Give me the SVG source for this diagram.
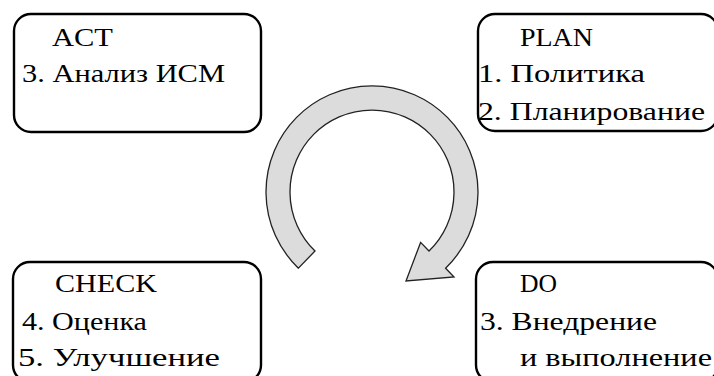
<svg xmlns="http://www.w3.org/2000/svg" width="714" height="376" viewBox="0 0 714 376">
<style>
.box{fill:#fff;stroke:#000;stroke-width:2.4}
.t{font-family:'Liberation Serif','DejaVu Serif',serif;font-size:26px;fill:#000}
.arrow{fill:#dcdcdc;stroke:#222;stroke-width:1.3;stroke-linejoin:miter}
</style>
<rect width="714" height="376" fill="#fff"/>
<g id="act">
<rect class="box" x="14" y="14" width="247" height="118" rx="17"/>
<text class="t" x="52" y="46" textLength="61" lengthAdjust="spacingAndGlyphs">ACT</text>
<text class="t" x="22" y="82" textLength="203" lengthAdjust="spacingAndGlyphs">3. Анализ ИСМ</text>
</g>
<g id="plan">
<rect class="box" x="478" y="14" width="240" height="117" rx="17"/>
<text class="t" x="520" y="46" textLength="73" lengthAdjust="spacingAndGlyphs">PLAN</text>
<text class="t" x="478" y="82" textLength="167" lengthAdjust="spacingAndGlyphs">1. Политика</text>
<text class="t" x="478" y="120" textLength="227" lengthAdjust="spacingAndGlyphs">2. Планирование</text>
</g>
<g id="check">
<rect class="box" x="13" y="262" width="248" height="120" rx="17"/>
<text class="t" x="55" y="292" textLength="102" lengthAdjust="spacingAndGlyphs">CHECK</text>
<text class="t" x="22" y="330" textLength="125" lengthAdjust="spacingAndGlyphs">4. Оценка</text>
<text class="t" x="18" y="366" textLength="202" lengthAdjust="spacingAndGlyphs">5. Улучшение</text>
</g>
<g id="do">
<rect class="box" x="476" y="262" width="242" height="120" rx="17"/>
<text class="t" x="520" y="292" textLength="37" lengthAdjust="spacingAndGlyphs">DO</text>
<text class="t" x="480" y="330" textLength="177" lengthAdjust="spacingAndGlyphs">3. Внедрение</text>
<text class="t" x="520" y="366" textLength="192" lengthAdjust="spacingAndGlyphs">и выполнение</text>
</g>
<g id="connectors">
<path class="arrow" d="M298.4,268.2 A106,106 0 1 1 445.6,268.2 L454,277 L406,281 L420.6,242.4 L429,251 A82,82 0 1 0 315,251 Z"/>
</g>
</svg>
